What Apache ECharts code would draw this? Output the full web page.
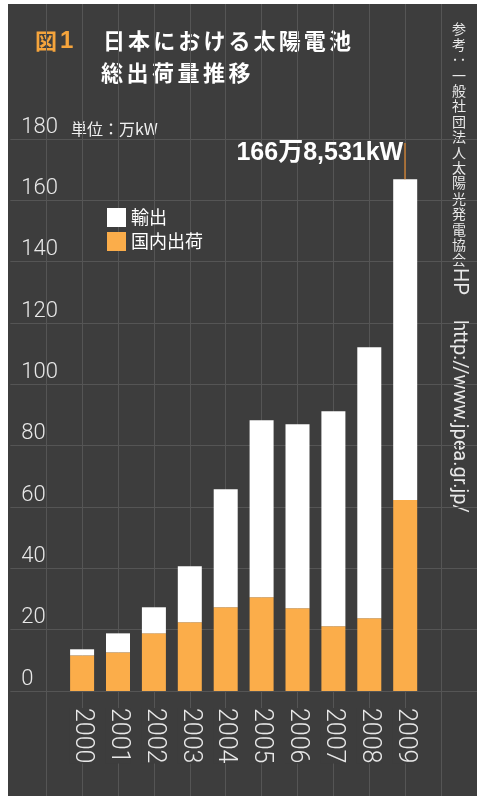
<!DOCTYPE html>
<html>
<head>
<meta charset="utf-8">
<script src="https://cdn.jsdelivr.net/npm/echarts@6/dist/echarts.min.js"></script>
<style>
  html, body { margin: 0; padding: 0; background: #ffffff; }
  #wrap { position: relative; width: 477px; height: 800px; background: #ffffff; }
  #chart { position: absolute; left: 8px; top: 4px; width: 469px; height: 792px; }
</style>
</head>
<body>
<div id="wrap"><div id="chart"></div></div>
<script>
// Shipment years shown on the axis
const years = ['2000', '2001', '2002', '2003', '2004', '2005', '2006', '2007', '2008', '2009'];
// Empty slots either side of the data so the category grid runs across the whole panel
const padBefore = ['1998', '1999'];
const padAfter = ['2010', '2011'];

// 国内出荷 (domestic shipments), 万kW
const domestic = [11.6, 12.6, 18.8, 22.4, 27.3, 30.6, 27.0, 21.1, 23.7, 62.3];
// 輸出 (exports), 万kW
const exportsData = [2.0, 6.2, 8.5, 18.3, 38.5, 57.7, 60.0, 70.1, 88.4, 104.5531];

// Value axis ticks
const yMin = 0;
const yMax = 180;
const yStep = 20;

// Top of the leader line above the 2009 bar, in axis units
const leaderTop = 178.7;

const seriesNames = ['輸出', '国内出荷'];
const titleLine1 = '日本における太陽電池';
const titleLine2 = '総出荷量推移';
const unitText = '単位：万kW';

const BG = '#3d3d3d';
const GRID = '#555555';
const ORANGE = '#fbad4a';
const LABEL = '#e8e8e8';
const THIN = 'Roboto, "Liberation Sans", sans-serif';
const JP = '"Noto Sans CJK JP", sans-serif';

const cats = padBefore.concat(years, padAfter);
const pad = arr => padBefore.map(() => null).concat(arr, padAfter.map(() => null));

// Total for the last year, written out as 万 + remainder kW
const lastIdx = years.length - 1;
const lastTotal = domestic[lastIdx] + exportsData[lastIdx];
function formatTotal(v) {
  const kw = Math.round(v * 10000);
  const man = Math.floor(kw / 10000);
  const rest = kw % 10000;
  return man + '万' + rest.toLocaleString('en-US') + 'kW';
}

const exportItems = pad(exportsData).map((v, i) => {
  if (i !== padBefore.length + lastIdx) return v;
  return {
    value: v,
    label: {
      show: true,
      formatter: () => formatTotal(lastTotal),
      position: [10, -26],
      align: 'right',
      verticalAlign: 'middle',
      color: '#ffffff',
      fontSize: 25,
      fontWeight: 'bold',
      fontFamily: '"Liberation Sans", Arial, ' + JP
    }
  };
});

const isYear = (idx, val) => years.indexOf(val) >= 0;

// Title characters are set one by one to keep the wide tracking
function spacedText(str, x0, step, y, style) {
  return str.split('').map((ch, i) => ({
    type: 'text', x: x0 + i * step, y: y,
    style: Object.assign({ text: ch, textVerticalAlign: 'middle' }, style)
  }));
}

const titleStyle = { fill: '#ffffff', font: 'bold 22px ' + JP };

// Vertical source note on the right edge
const noteX = 451;
const noteStep = 15.4;
const noteY0 = 25;
const noteUpright1 = '参考';
const noteUpright2 = '一般社団法人太陽光発電協会';
const noteStyle = { fill: '#e8e8e8', font: '14px ' + JP, textAlign: 'center', textVerticalAlign: 'middle' };
const noteEls = [];
noteUpright1.split('').forEach((ch, i) => {
  noteEls.push({ type: 'text', x: noteX, y: noteY0 + i * noteStep, style: Object.assign({ text: ch }, noteStyle) });
});
noteEls.push({ type: 'text', x: noteX, y: noteY0 + 2 * noteStep, rotation: -Math.PI / 2,
  style: Object.assign({ text: '：' }, noteStyle) });
noteUpright2.split('').forEach((ch, i) => {
  noteEls.push({ type: 'text', x: noteX, y: noteY0 + (3 + i) * noteStep, style: Object.assign({ text: ch }, noteStyle) });
});
noteEls.push({ type: 'text', x: noteX, y: 264, rotation: -Math.PI / 2,
  style: { text: 'HP', fill: '#e8e8e8', font: '20px ' + THIN, textAlign: 'left', textVerticalAlign: 'middle' } });
noteEls.push({ type: 'text', x: noteX, y: 316, rotation: -Math.PI / 2,
  style: { text: 'http://www.jpea.gr.jp/', fill: '#e8e8e8', font: '20px ' + THIN, textAlign: 'left', textVerticalAlign: 'middle' } });

const chart = echarts.init(document.getElementById('chart'), null, { renderer: 'canvas' });

chart.setOption({
  backgroundColor: BG,
  animation: false,
  grid: [
    { left: 2.3, right: -5.6, top: 135, bottom: 105 },
    { left: 2.3, right: -5.6, top: 0, bottom: 0 }
  ],
  legend: {
    data: seriesNames,
    orient: 'vertical',
    left: 99,
    top: 204,
    padding: 0,
    itemWidth: 19,
    itemHeight: 19,
    itemGap: 5,
    icon: 'rect',
    textStyle: { color: '#ffffff', fontSize: 18, fontFamily: JP }
  },
  xAxis: [
    {
      gridIndex: 0,
      type: 'category',
      data: cats,
      boundaryGap: false,
      axisLine: { show: false },
      axisTick: { show: false },
      splitLine: { show: false },
      axisLabel: {
        interval: isYear,
        rotate: -90,
        margin: 17,
        fontSize: 25,
        fontWeight: 300,
        fontFamily: THIN,
        color: LABEL,
        backgroundColor: BG
      }
    },
    {
      gridIndex: 1,
      type: 'category',
      data: cats,
      boundaryGap: false,
      axisLine: { show: false },
      axisTick: { show: false },
      axisLabel: { show: false },
      splitLine: { show: true, interval: (idx) => idx > 0, lineStyle: { color: GRID, width: 1 } }
    }
  ],
  yAxis: [
    {
      gridIndex: 0,
      type: 'value',
      min: yMin,
      max: yMax,
      interval: yStep,
      axisLine: { show: false },
      axisTick: { show: false },
      splitLine: { show: true, lineStyle: { color: GRID, width: 1 } },
      axisLabel: {
        inside: true,
        margin: 11,
        fontSize: 22,
        fontWeight: 300,
        fontFamily: THIN,
        color: LABEL,
        verticalAlign: 'bottom',
        lineHeight: 22,
        padding: [0, 0, 1, 0]
      }
    },
    { gridIndex: 1, type: 'value', show: false, splitLine: { show: false } }
  ],
  series: [
    {
      name: '国内出荷',
      type: 'bar',
      stack: 'total',
      xAxisIndex: 0,
      yAxisIndex: 0,
      barWidth: 24,
      itemStyle: { color: ORANGE },
      data: pad(domestic)
    },
    {
      name: '輸出',
      type: 'bar',
      stack: 'total',
      xAxisIndex: 0,
      yAxisIndex: 0,
      barWidth: 24,
      itemStyle: { color: '#ffffff' },
      data: exportItems,
      markLine: {
        silent: true,
        symbol: ['none', 'none'],
        label: { show: false },
        lineStyle: { color: '#c47d35', width: 1.5, type: 'solid' },
        data: [[
          { xAxis: years[lastIdx], yAxis: lastTotal },
          { xAxis: years[lastIdx], yAxis: leaderTop }
        ]]
      }
    }
  ],
  graphic: [
    { type: 'text', x: 27, y: 37, style: { text: '図', fill: '#f5a43c', font: 'bold 22px ' + JP, textVerticalAlign: 'middle' } },
    { type: 'text', x: 52, y: 37, style: { text: '1', fill: '#f5a43c', font: 'bold 24px "Liberation Sans", Arial, sans-serif', textVerticalAlign: 'middle' } },
    ...spacedText(titleLine1, 95, 25.1, 37, titleStyle),
    ...spacedText(titleLine2, 93, 25.5, 69, titleStyle),
    { type: 'text', x: 63, y: 125, style: { text: unitText, fill: '#f0f0f0', font: '16px ' + JP, textVerticalAlign: 'middle' } },
    ...noteEls
  ]
});
</script>
</body>
</html>
